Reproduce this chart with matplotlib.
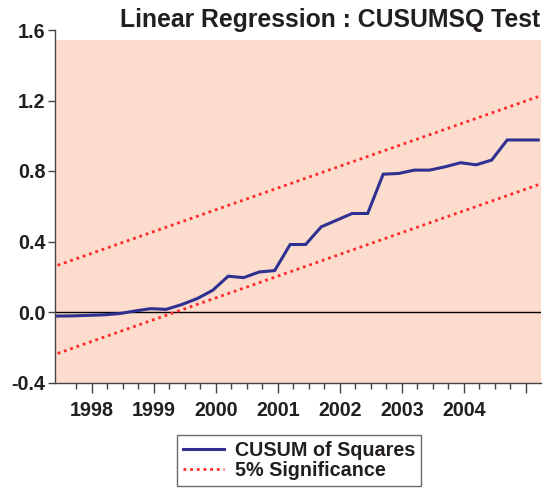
import numpy as np
import matplotlib
matplotlib.use("Agg")
import matplotlib.pyplot as plt
from matplotlib.lines import Line2D

# Quarterly observations 1997Q2 .. 2005Q1
cusumsq = [-0.023, -0.022, -0.019, -0.016, -0.009, 0.006, 0.019, 0.015,
           0.042, 0.076, 0.123, 0.203, 0.195, 0.227, 0.235, 0.383,
           0.383, 0.483, 0.521, 0.559, 0.559, 0.782, 0.786, 0.805,
           0.805, 0.824, 0.847, 0.835, 0.862, 0.976, 0.976, 0.976]
# 5% significance bounds at first and last observation
upper_ends = [0.265, 1.222]
lower_ends = [-0.235, 0.722]
year_labels = ["1998", "1999", "2000", "2001", "2002", "2003", "2004", ""]
yticks = [-0.4, 0.0, 0.4, 0.8, 1.2, 1.6]
ytick_labels = ["-0.4", "0.0", "0.4", "0.8", "1.2", "1.6"]

FONT = ["Liberation Sans", "DejaVu Sans"]
TXT = "#231f20"

fig = plt.figure(figsize=(5.53, 4.88), dpi=100)
ax = fig.add_axes([55/553, 1-382.5/488, (540.5-55)/553, (382.5-30)/488])
ax.set_facecolor("none")

n = len(cusumsq)
x = np.arange(n)
ax.set_xlim(-0.17, 31.15)
ax.set_ylim(-0.4, 1.6)

# shaded band
ax.fill_between([-0.17, 31.15], -0.4, 1.545, color="#fcdccc", zorder=0, linewidth=0)
ax.axhline(0, color="black", lw=1.0, zorder=2)

ax.plot([x[0], x[-1]], upper_ends, color="#ff2a2a", lw=2.0, ls=(0, (1, 1.4)), zorder=3)
ax.plot([x[0], x[-1]], lower_ends, color="#ff2a2a", lw=2.0, ls=(0, (1, 1.4)), zorder=3)
ax.plot(x, cusumsq, color="#2e3192", lw=2.2, zorder=4, solid_joinstyle="miter")

for s in ["top", "right"]:
    ax.spines[s].set_visible(False)
for s in ["left", "bottom"]:
    ax.spines[s].set_color("#444444")
    ax.spines[s].set_linewidth(1.0)

major = [2.2 + 4*i for i in range(8)]
minor = [1.2 + i for i in range(30)]
ax.set_xticks(major)
ax.set_xticklabels(year_labels)
ax.set_xticks(minor, minor=True)
ax.tick_params(axis="x", which="major", length=7, width=1, color="#444444", pad=6)
ax.tick_params(axis="x", which="minor", length=4, width=1, color="#444444")
ax.set_yticks(yticks)
ax.set_yticklabels(ytick_labels)
ax.tick_params(axis="y", length=5, width=1, color="#444444", pad=2)
for lab in ax.get_xticklabels() + ax.get_yticklabels():
    lab.set_fontfamily(FONT)
    lab.set_fontsize(14.2)
    lab.set_fontweight("bold")
    lab.set_color(TXT)

fig.text(540/553, 1-27/488, "Linear Regression : CUSUMSQ Test", ha="right", va="baseline",
         fontsize=17.8, family=FONT, fontweight="bold", color=TXT)

handles = [Line2D([], [], color="#2e3192", lw=2.2),
           Line2D([], [], color="#ff2a2a", lw=2.0, ls=(0, (1, 1.4)))]
leg = fig.legend(handles, ["CUSUM of Squares", "5% Significance"],
                 loc="upper left", bbox_to_anchor=(176.7/553, 1-435/488),
                 frameon=True, fancybox=False, handlelength=2.1, handletextpad=0.55,
                 borderpad=0.3, labelspacing=0.05, borderaxespad=0,
                 prop={"family": FONT, "size": 14.2, "weight": "bold"})
leg.get_frame().set_edgecolor("#444444")
leg.get_frame().set_linewidth(1.0)
for t in leg.get_texts():
    t.set_color(TXT)

fig.savefig("out.png", dpi=100)
